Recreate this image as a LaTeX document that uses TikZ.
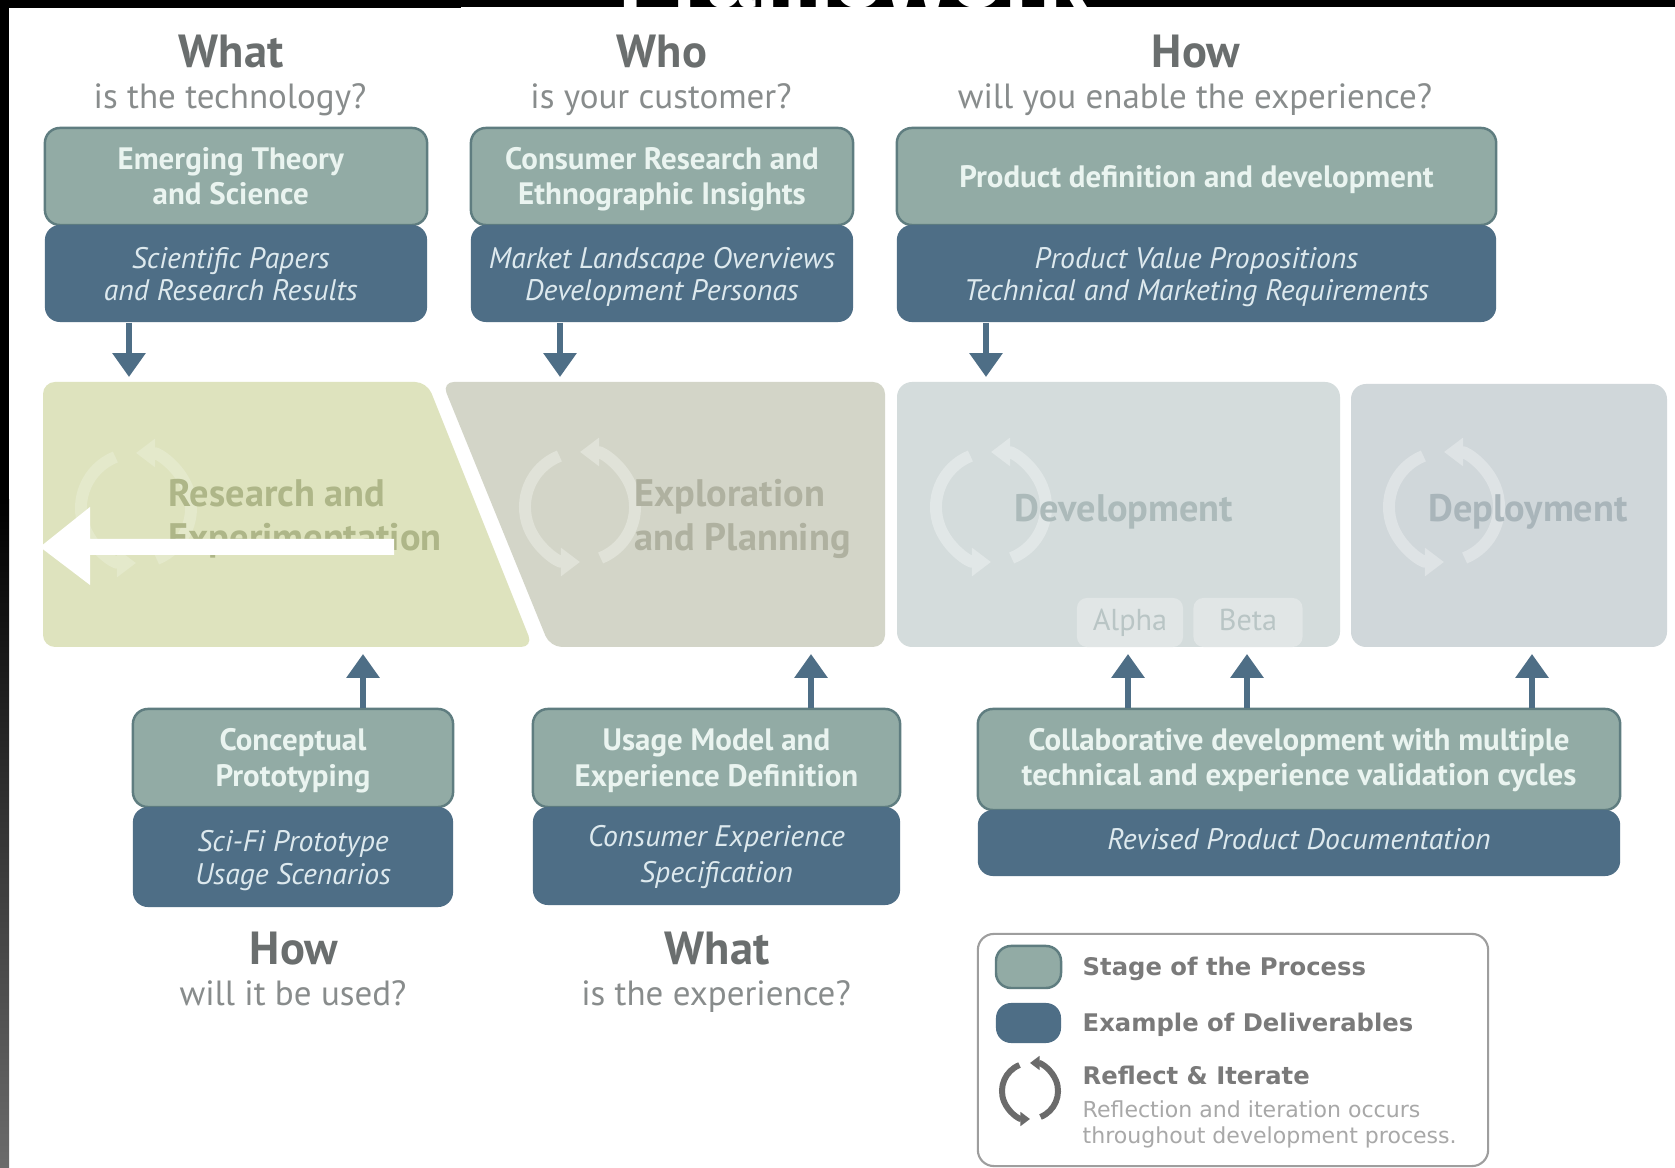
\documentclass[tikz,border=0pt]{standalone}
\usepackage{fontspec}
\setmainfont{PT Sans}
\newfontfamily\legendfont{DejaVu Sans}
\newfontfamily\titlefont{Liberation Sans}
\usetikzlibrary{arrows.meta,shadings}
\definecolor{stagefill}{HTML}{92ABA5}
\definecolor{stageline}{HTML}{5F7D80}
\definecolor{delivfill}{HTML}{4E6E86}
\definecolor{stagetext}{HTML}{EAF4F0}
\definecolor{delivtext}{HTML}{DDE9EE}
\definecolor{headcol}{HTML}{6A6E6E}
\definecolor{subcol}{HTML}{888C8C}
\definecolor{bandA}{HTML}{DEE3BE}
\definecolor{bandB}{HTML}{D3D5C8}
\definecolor{bandC}{HTML}{D4DCDC}
\definecolor{bandD}{HTML}{D0D7DA}
\definecolor{bandtagtext}{HTML}{B9C5C5}
\definecolor{txtA}{HTML}{AEB688}
\definecolor{txtB}{HTML}{AFB1A0}
\definecolor{txtC}{HTML}{ACBABA}
\definecolor{txtD}{HTML}{A9B5BA}
\tikzset{
  stagebox/.style={draw=stageline,line width=0.7pt,fill=stagefill,rounded corners=0.15cm,inner sep=0pt,align=center,text=stagetext,font=\fontsize{8.8}{10}\selectfont\bfseries},
  delivbox/.style={fill=delivfill,rounded corners=0.15cm,inner sep=0pt,align=center,text=delivtext,font=\fontsize{8.45}{9.3}\selectfont\itshape},
  headtext/.style={inner sep=0pt,anchor=base,text=headcol,font=\fontsize{13.2}{15}\selectfont\bfseries},
  subtext/.style={inner sep=0pt,anchor=base,text=subcol,font=\fontsize{9.95}{11}\selectfont},
  flowarrow/.style={draw=delivfill,line width=1.7pt,-{Triangle[width=9.1pt,length=6.8pt]}},
  bandtext/.style={inner sep=0pt,font=\fontsize{10.9}{11.6}\selectfont\bfseries},
  tagbox/.style={fill=#1,rounded corners=0.1cm,inner sep=0pt,text=bandtagtext,text height=6.2pt,text depth=1.8pt,font=\fontsize{8.6}{10}\selectfont},
  legendbold/.style={inner sep=0pt,anchor=west,text=black!52,font=\legendfont\fontsize{6.9}{8}\selectfont\bfseries},
  legendthin/.style={inner sep=0pt,anchor=west,text=black!34,font=\legendfont\fontsize{6.27}{7.5}\selectfont},
}
\newcommand{\fs}{\strut\rule{0pt}{9pt}}
\newcommand{\cycleicon}[5]{% x, y, radius, colour, line width
  \draw[#4,line width=#5,-{Triangle[width=2.3*#5,length=1.6*#5]}]
    (#1,#2) ++(-68:#3) arc[start angle=-68,end angle=90,radius=#3];
  \draw[#4,line width=#5,-{Triangle[width=2.3*#5,length=1.6*#5]}]
    (#1,#2) ++(112:#3) arc[start angle=112,end angle=270,radius=#3];
}
\begin{document}
\begin{tikzpicture}[x=0.01cm,y=-0.01cm]
\useasboundingbox (0,0) rectangle (1675,1168);
\fill[white] (0,0) rectangle (1675,1168);
% page edges left by the crop
\fill[black] (0,0) rectangle (1675,7);
\fill[black] (0,0) rectangle (461,8);
\fill[black] (0,0) rectangle (9,500);
\shade[top color=black,bottom color=black!58] (0,500) rectangle (9,1168);
\begin{scope}
  \clip (461,0) rectangle (1675,7.5);
  \node[anchor=base,inner sep=0pt,text=white,font=\titlefont\fontsize{25}{28}\selectfont\bfseries] (title) at (853,8) {Framework};
\end{scope}
% phase bands
\fill[bandA,rounded corners=0.12cm] (43,382) -- (427,382) -- (533,647) -- (43,647) -- cycle;
\fill[bandB,rounded corners=0.12cm] (442,382) -- (885,382) -- (885,647) -- (550,647) -- cycle;
\fill[bandC,rounded corners=0.15cm] (897,382) rectangle (1340,647);
\fill[bandD,rounded corners=0.15cm] (1351,384) rectangle (1667,647);
\cycleicon{136}{508}{0.55cm}{bandA!80!white}{3.4pt}
\cycleicon{580}{507}{0.55cm}{bandB!70!white}{3.4pt}
\cycleicon{991}{507}{0.55cm}{bandC!70!white}{3.4pt}
\cycleicon{1444}{507}{0.55cm}{bandD!70!white}{3.4pt}
\node[bandtext,anchor=base west,text=txtA] (resA) at (168,507) {Research and};
\node[bandtext,anchor=base west,text=txtA] (resB) at (168,551) {Experimentation};
\node[bandtext,anchor=base west,text=txtB] (expA) at (634,507) {Exploration};
\node[bandtext,anchor=base west,text=txtB] (expB) at (634,551) {and Planning};
\node[bandtext,text=txtC] (dev) at (1124,512) {Development};
\node[bandtext,text=txtD] (dep) at (1528,512) {Deployment};
\node[tagbox=bandC!70!white,minimum width=1.06cm,minimum height=0.49cm] (alpha) at (1130,622.5) {Alpha};
\node[tagbox=bandC!70!white,minimum width=1.09cm,minimum height=0.49cm] (beta) at (1248,622.5) {Beta};
% the white arrow lying over the band
\fill[white] (40,547) -- (90,507) -- (90,539) -- (394,539) -- (394,555) -- (90,555) -- (90,585) -- cycle;
% headings
\node[headtext] (h1) at (231,68) {What};
\node[subtext] (s1) at (230,109) {is the technology?};
\node[headtext] (h2) at (662,68) {Who};
\node[subtext] (s2) at (661,109) {is your customer?};
\node[headtext] (h3) at (1196,68) {How};
\node[subtext] (s3) at (1195,109) {will you enable the experience?};
\node[headtext] (h4) at (294,965) {How};
\node[subtext] (s4) at (293,1006) {will it be used?};
\node[headtext] (h5) at (717,965) {What};
\node[subtext] (s5) at (716,1006) {is the experience?};
% upper boxes
\node[stagebox,minimum width=3.82cm,minimum height=0.97cm] (t1) at (236,176.5) {\hspace*{-3pt}\fs Emerging Theory\\\hspace*{-3pt}\strut and Science};
\node[delivbox,minimum width=3.82cm,minimum height=0.97cm] (d1) at (236,273.5) {\hspace*{-3pt}\fs Scientific Papers\\\hspace*{-3pt}\strut and Research Results};
\node[stagebox,minimum width=3.82cm,minimum height=0.97cm] (t2) at (662,176.5) {\fs Consumer Research and\\\strut Ethnographic Insights};
\node[delivbox,minimum width=3.82cm,minimum height=0.97cm] (d2) at (662,273.5) {\fs Market Landscape Overviews\\\strut Development Personas};
\node[stagebox,minimum width=5.99cm,minimum height=0.97cm] (t3) at (1196.5,176.5) {\fs Product definition and development};
\node[delivbox,minimum width=5.99cm,minimum height=0.97cm] (d3) at (1196.5,273.5) {\fs Product Value Propositions\\\strut Technical and Marketing Requirements};
% lower boxes
\node[stagebox,minimum width=3.20cm,minimum height=0.98cm] (t4) at (293,758) {\fs Conceptual\\\strut Prototyping};
\node[delivbox,minimum width=3.20cm,minimum height=1.00cm] (d4) at (293,857) {\fs Sci-Fi Prototype\\\strut Usage Scenarios};
\node[stagebox,minimum width=3.67cm,minimum height=0.98cm] (t5) at (716.5,758) {\fs Usage Model and\\\strut Experience Definition};
\node[delivbox,minimum width=3.67cm,minimum height=0.98cm] (d5) at (716.5,856) {\strut\rule{0pt}{7.6pt}Consumer Experience\\[0.9pt]\strut Specification};
\node[stagebox,minimum width=6.42cm,minimum height=1.01cm] (t6) at (1299,759.5) {\strut\rule{0pt}{8pt}Collaborative development with multiple\\\strut technical and experience validation cycles};
\node[delivbox,minimum width=6.42cm,minimum height=0.66cm] (d6) at (1299,843) {\raisebox{0.9pt}{\strut Revised Product Documentation}};
% connectors
\coordinate (a1) at (129,377);
\coordinate (a2) at (560,377);
\coordinate (a3) at (986,377);
\coordinate (b1) at (363,654);
\coordinate (b2) at (811,654);
\coordinate (b3) at (1128,654);
\coordinate (b4) at (1247,654);
\coordinate (b5) at (1532,654);
\draw[flowarrow] (d1.south -| a1) -- (a1);
\draw[flowarrow] (d2.south -| a2) -- (a2);
\draw[flowarrow] (d3.south -| a3) -- (a3);
\draw[flowarrow] (t4.north -| b1) -- (b1);
\draw[flowarrow] (t5.north -| b2) -- (b2);
\draw[flowarrow] (t6.north -| b3) -- (b3);
\draw[flowarrow] (t6.north -| b4) -- (b4);
\draw[flowarrow] (t6.north -| b5) -- (b5);
% legend
\node[draw=black!38,line width=0.6pt,fill=white,rounded corners=0.16cm,minimum width=5.10cm,minimum height=2.32cm,inner sep=0pt] (legend) at (1233,1050) {};
\node[stagebox,minimum width=0.65cm,minimum height=0.42cm] (k1) at (1028.5,967) {};
\node[delivbox,minimum width=0.65cm,minimum height=0.40cm] (k2) at (1028.5,1023) {};
\cycleicon{1030}{1091}{0.28cm}{black!58}{1.7pt}
\node[legendbold] (l1) at (1082,969) {Stage of the Process};
\node[legendbold] (l2) at (1082,1025) {Example of Deliverables};
\node[legendbold] (l3) at (1082,1075) {Reflect \& Iterate};
\node[legendthin] (l4) at (1082,1109) {Reflection and iteration occurs};
\node[legendthin] (l5) at (1082,1137) {throughout development process.};
\end{tikzpicture}
\end{document}
